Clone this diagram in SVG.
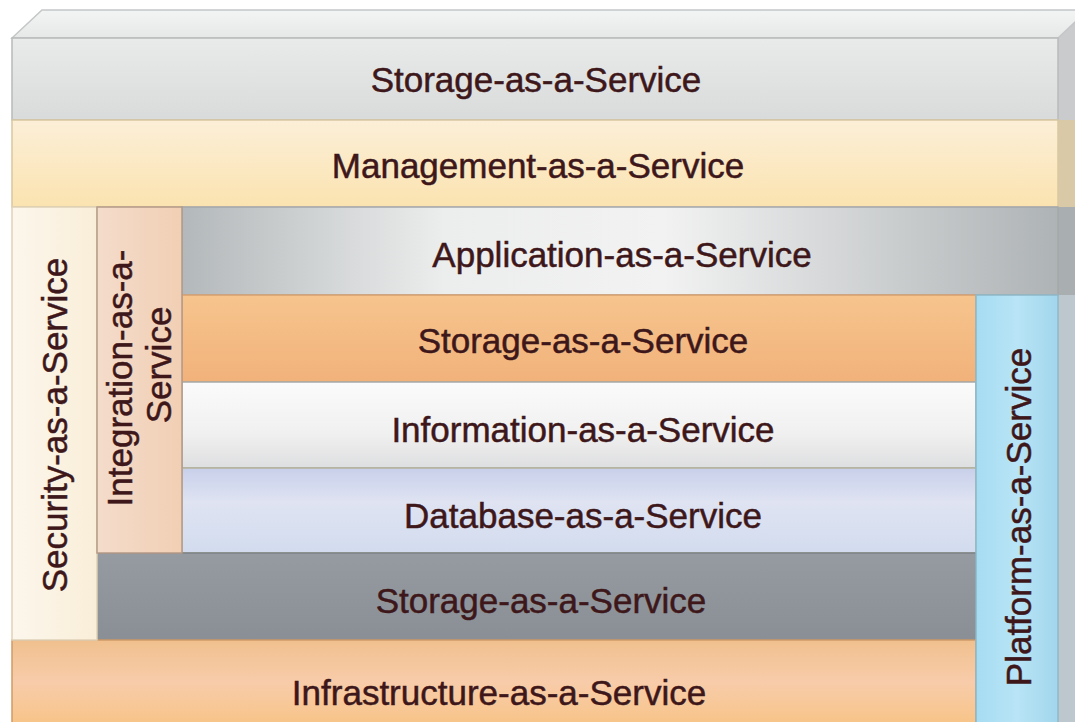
<svg xmlns="http://www.w3.org/2000/svg" width="1075" height="722" viewBox="0 0 1075 722">
<defs>
<style>
text{font-family:"Liberation Sans",Arial,sans-serif;font-size:35px;fill:#3d171a;stroke:#3d171a;stroke-width:0.5;text-anchor:middle}
.edge{stroke-width:1.5}
</style>
<linearGradient id="gTop" x1="0" y1="0" x2="0" y2="1"><stop offset="0" stop-color="#f3f4f4"/><stop offset="1" stop-color="#e6e8e8"/></linearGradient>
<linearGradient id="gStor1" x1="0" y1="0" x2="0" y2="1"><stop offset="0" stop-color="#e9eaea"/><stop offset="1" stop-color="#d9dbdb"/></linearGradient>
<linearGradient id="gMgmt" x1="0" y1="0" x2="0" y2="1"><stop offset="0" stop-color="#fcefd8"/><stop offset="1" stop-color="#fbe3b0"/></linearGradient>
<linearGradient id="gApp" x1="0" y1="0" x2="1" y2="0"><stop offset="0" stop-color="#b3b8ba"/><stop offset="0.3" stop-color="#eceded"/><stop offset="0.55" stop-color="#f2f2f2"/><stop offset="1" stop-color="#aeb3b5"/></linearGradient>
<linearGradient id="gOrange" x1="0" y1="0" x2="0" y2="1"><stop offset="0" stop-color="#f7c48e"/><stop offset="1" stop-color="#f1b27a"/></linearGradient>
<linearGradient id="gInfo" x1="0" y1="0" x2="0" y2="1"><stop offset="0" stop-color="#fbfbfb"/><stop offset="0.6" stop-color="#f0f0f0"/><stop offset="1" stop-color="#dedfe0"/></linearGradient>
<linearGradient id="gDb" x1="0" y1="0" x2="0" y2="1"><stop offset="0" stop-color="#c8d0ea"/><stop offset="0.4" stop-color="#dfe3f2"/><stop offset="1" stop-color="#d2dcee"/></linearGradient>
<linearGradient id="gStorGray" x1="0" y1="0" x2="0" y2="1"><stop offset="0" stop-color="#959ba0"/><stop offset="1" stop-color="#898f94"/></linearGradient>
<linearGradient id="gInfra" x1="0" y1="0" x2="0" y2="1"><stop offset="0" stop-color="#f0c08e"/><stop offset="0.5" stop-color="#f8ccaa"/><stop offset="1" stop-color="#f7c488"/></linearGradient>
<linearGradient id="gSec" x1="0" y1="0" x2="1" y2="0"><stop offset="0" stop-color="#fcf6ec"/><stop offset="1" stop-color="#f9eed8"/></linearGradient>
<linearGradient id="gInt" x1="0" y1="0" x2="1" y2="0"><stop offset="0" stop-color="#f4dccb"/><stop offset="1" stop-color="#f1cfb4"/></linearGradient>
<linearGradient id="gPlat" x1="0" y1="0" x2="1" y2="0"><stop offset="0" stop-color="#a6dcf2"/><stop offset="0.5" stop-color="#b8e4f6"/><stop offset="1" stop-color="#a2d6ec"/></linearGradient>
</defs>
<rect width="1075" height="722" fill="#ffffff"/>

<g id="side-face">
<polygon points="1058,38 1088,10 1088,120 1058,120" fill="#c9cbcc"/>
<polygon points="1058,120 1088,120 1088,207 1058,207" fill="#d9c9a6"/>
<polygon points="1058,207 1088,207 1088,295 1058,295" fill="#a9aeb1"/>
<polygon points="1058,295 1088,295 1088,722 1058,722" fill="#bcc8ce"/>
</g>

<g id="top-face">
<polygon points="12,38 42,10 1088,10 1058,38" fill="url(#gTop)" stroke="#c4c6c7" stroke-width="1.5"/>
</g>

<g id="storage-top">
<rect x="12" y="38" width="1046" height="82" fill="url(#gStor1)" stroke="#b8babb" class="edge"/>
<text x="536" y="92">Storage-as-a-Service</text>
</g>

<g id="management">
<rect x="12" y="120" width="1046" height="87" fill="url(#gMgmt)" stroke="#d9c8a0" class="edge"/>
<text x="538" y="178">Management-as-a-Service</text>
</g>

<g id="application">
<rect x="182" y="207" width="876" height="88" fill="url(#gApp)" stroke="#a4a8aa" class="edge"/>
<text x="622" y="267">Application-as-a-Service</text>
</g>

<g id="storage-orange">
<rect x="182" y="295" width="794" height="87" fill="url(#gOrange)" stroke="#d8a070" class="edge"/>
<text x="583" y="353">Storage-as-a-Service</text>
</g>

<g id="information">
<rect x="182" y="382" width="794" height="86" fill="url(#gInfo)" stroke="#a8aaab" class="edge"/>
<text x="583" y="442">Information-as-a-Service</text>
</g>

<g id="database">
<rect x="182" y="468" width="794" height="85" fill="url(#gDb)" stroke="#b5b49a" class="edge"/>
<text x="583" y="528">Database-as-a-Service</text>
</g>

<g id="storage-gray">
<rect x="97" y="553" width="879" height="87" fill="url(#gStorGray)" stroke="#7c8287" class="edge"/>
<text x="541" y="613">Storage-as-a-Service</text>
</g>

<g id="infrastructure">
<rect x="12" y="640" width="964" height="84" fill="url(#gInfra)" stroke="#d09a68" class="edge"/>
<text x="499" y="705">Infrastructure-as-a-Service</text>
</g>

<g id="security">
<rect x="12" y="207" width="85" height="433" fill="url(#gSec)" stroke="#e0d2b8" class="edge"/>
<text transform="translate(67,425) rotate(-90)">Security-as-a-Service</text>
</g>

<g id="integration">
<rect x="97" y="207" width="85" height="346" fill="url(#gInt)" stroke="#b49a88" class="edge"/>
<text transform="translate(132,378) rotate(-90)">Integration-as-a-</text>
<text transform="translate(171,365) rotate(-90)">Service</text>
</g>

<g id="platform">
<rect x="976" y="295" width="82" height="429" fill="url(#gPlat)" stroke="#8fb8c8" class="edge"/>
<text transform="translate(1031,517) rotate(-90)">Platform-as-a-Service</text>
</g>
</svg>
